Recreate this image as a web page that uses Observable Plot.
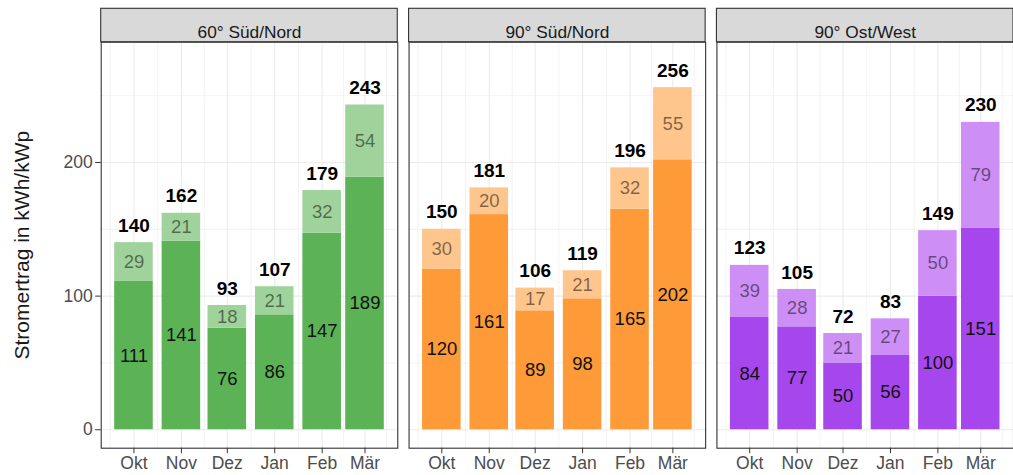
<!DOCTYPE html>
<html>
<head>
<meta charset="utf-8">
<script src="https://cdn.jsdelivr.net/npm/d3@7"></script>
<script src="https://cdn.jsdelivr.net/npm/@observablehq/plot@0.6"></script>
<style>
  html, body { margin: 0; padding: 0; background: #fff; }
  #chart { width: 1013px; height: 475px; overflow: hidden; }
  svg { font-family: "Liberation Sans", Arial, sans-serif; }
</style>
</head>
<body>
<div id="chart"></div>
<script>
// ---- data ----
const panels = ["60° Süd/Nord", "90° Süd/Nord", "90° Ost/West"];
const months = ["Okt", "Nov", "Dez", "Jan", "Feb", "Mär"];
const monthDates = ["2022-10-01", "2022-11-01", "2022-12-01", "2023-01-01", "2023-02-01", "2023-03-01"];
const baseValues = [
  [111, 141, 76, 86, 147, 189],
  [120, 161, 89, 98, 165, 202],
  [84, 77, 50, 56, 100, 151]
];
const extraValues = [
  [29, 21, 18, 21, 32, 54],
  [30, 20, 17, 21, 32, 55],
  [39, 28, 21, 27, 50, 79]
];
const totals = [
  [140, 162, 93, 107, 179, 243],
  [150, 181, 106, 119, 196, 256],
  [123, 105, 72, 83, 149, 230]
];
const yTicks = [0, 100, 200];
const yMinor = [50, 150, 250];
const baseColors = ["#5cb356", "#fe9a37", "#a647ee"];
const extraColors = ["#9fd39b", "#fec68d", "#cd8ff6"];

// ---- derived ----
const DAY = 864e5;
const dates = monthDates.map(s => new Date(s + "T00:00:00Z"));
const halfW = 0.9 * 28 * DAY / 2;
const rows = [];
panels.forEach((p, i) => {
  dates.forEach((d, j) => {
    rows.push({
      panel: p, date: d, month: months[j],
      base: baseValues[i][j], extra: extraValues[i][j], total: totals[i][j],
      c1: baseColors[i], c2: extraColors[i]
    });
  });
});
const x0 = +dates[0] - halfW, x1 = +dates[dates.length - 1] + halfW;
const pad = (x1 - x0) * 0.05;
const xDomain = [new Date(x0 - pad), new Date(x1 + pad)];
const minorX = [];
minorX.push(new Date(+dates[0] - (dates[1] - dates[0]) / 2));
for (let j = 0; j < dates.length - 1; j++) minorX.push(new Date((+dates[j] + +dates[j + 1]) / 2));
minorX.push(new Date(+dates[dates.length - 1] + (dates[dates.length - 1] - dates[dates.length - 2]) / 2));

const fmt = new Map(dates.map((d, j) => [+d, months[j]]));
const headerH = 33.4;

function header(index, scales, values, dim) {
  const g = d3.create("svg:g");
  g.append("rect")
    .attr("x", dim.marginLeft)
    .attr("y", dim.marginTop - headerH)
    .attr("width", dim.width - dim.marginLeft - dim.marginRight)
    .attr("height", headerH)
    .attr("fill", "#d9d9d9")
    .attr("stroke", "#333333")
    .attr("stroke-width", 1.1);
  return g.node();
}

const chart = Plot.plot({
  width: 1013,
  height: 475,
  marginLeft: 100.7,
  marginRight: 0,
  marginTop: 41.7,
  marginBottom: 27.3,
  style: { fontFamily: "Liberation Sans, Arial, sans-serif", background: "#fff" },
  fx: { domain: panels, axis: null, paddingInner: 0.0367, paddingOuter: 0, round: false },
  x: { type: "utc", domain: xDomain, axis: null },
  y: { domain: [-13.8, 290], axis: null },
  color: { type: "identity" },
  marks: [
    Plot.ruleY(yMinor, { stroke: "#ebebeb", strokeWidth: 0.6 }),
    Plot.ruleX(minorX, { stroke: "#ebebeb", strokeWidth: 0.6 }),
    Plot.ruleY(yTicks, { stroke: "#ebebeb", strokeWidth: 1.1 }),
    Plot.ruleX(dates, { stroke: "#ebebeb", strokeWidth: 1.1 }),
    Plot.rectY(rows, { fx: "panel", x1: d => new Date(+d.date - halfW), x2: d => new Date(+d.date + halfW), y1: 0, y2: "base", fill: "c1" }),
    Plot.rectY(rows, { fx: "panel", x1: d => new Date(+d.date - halfW), x2: d => new Date(+d.date + halfW), y1: "base", y2: "total", fill: "c2" }),
    Plot.text(rows, { fx: "panel", x: "date", y: d => d.base / 2, text: d => String(d.base), fill: "#111", fontSize: 18.5 }),
    Plot.text(rows, { fx: "panel", x: "date", y: d => (d.base + d.total) / 2, text: d => String(d.extra), fill: "#000", fillOpacity: 0.5, fontSize: 18.5 }),
    Plot.text(rows, { fx: "panel", x: "date", y: "total", dy: -17, text: d => String(d.total), fill: "#000", fontWeight: "bold", fontSize: 19 }),
    Plot.frame({ stroke: "#333333", strokeWidth: 1.1 }),
    header,
    Plot.text(panels, { fx: d => d, text: d => d, frameAnchor: "top", dy: -headerH / 2, fill: "#1a1a1a", fontSize: 17.3 }),
    Plot.axisY({ ticks: yTicks, tickSize: 5.5, tickPadding: 3, stroke: "#333333", fill: "#4d4d4d", fontSize: 17.5, label: null }),
    Plot.axisY({ ticks: [], label: "Stromertrag in kWh/kWp", labelAnchor: "center", labelArrow: "none", labelOffset: 87, fontSize: 21, fill: "#1a1a1a" }),
    Plot.axisX({ ticks: dates, tickSize: 5.5, tickPadding: 3, stroke: "#333333", fill: "#4d4d4d", fontSize: 17.5, label: null, tickFormat: d => fmt.get(+d) })
  ]
});
document.getElementById("chart").appendChild(chart);
</script>
</body>
</html>
